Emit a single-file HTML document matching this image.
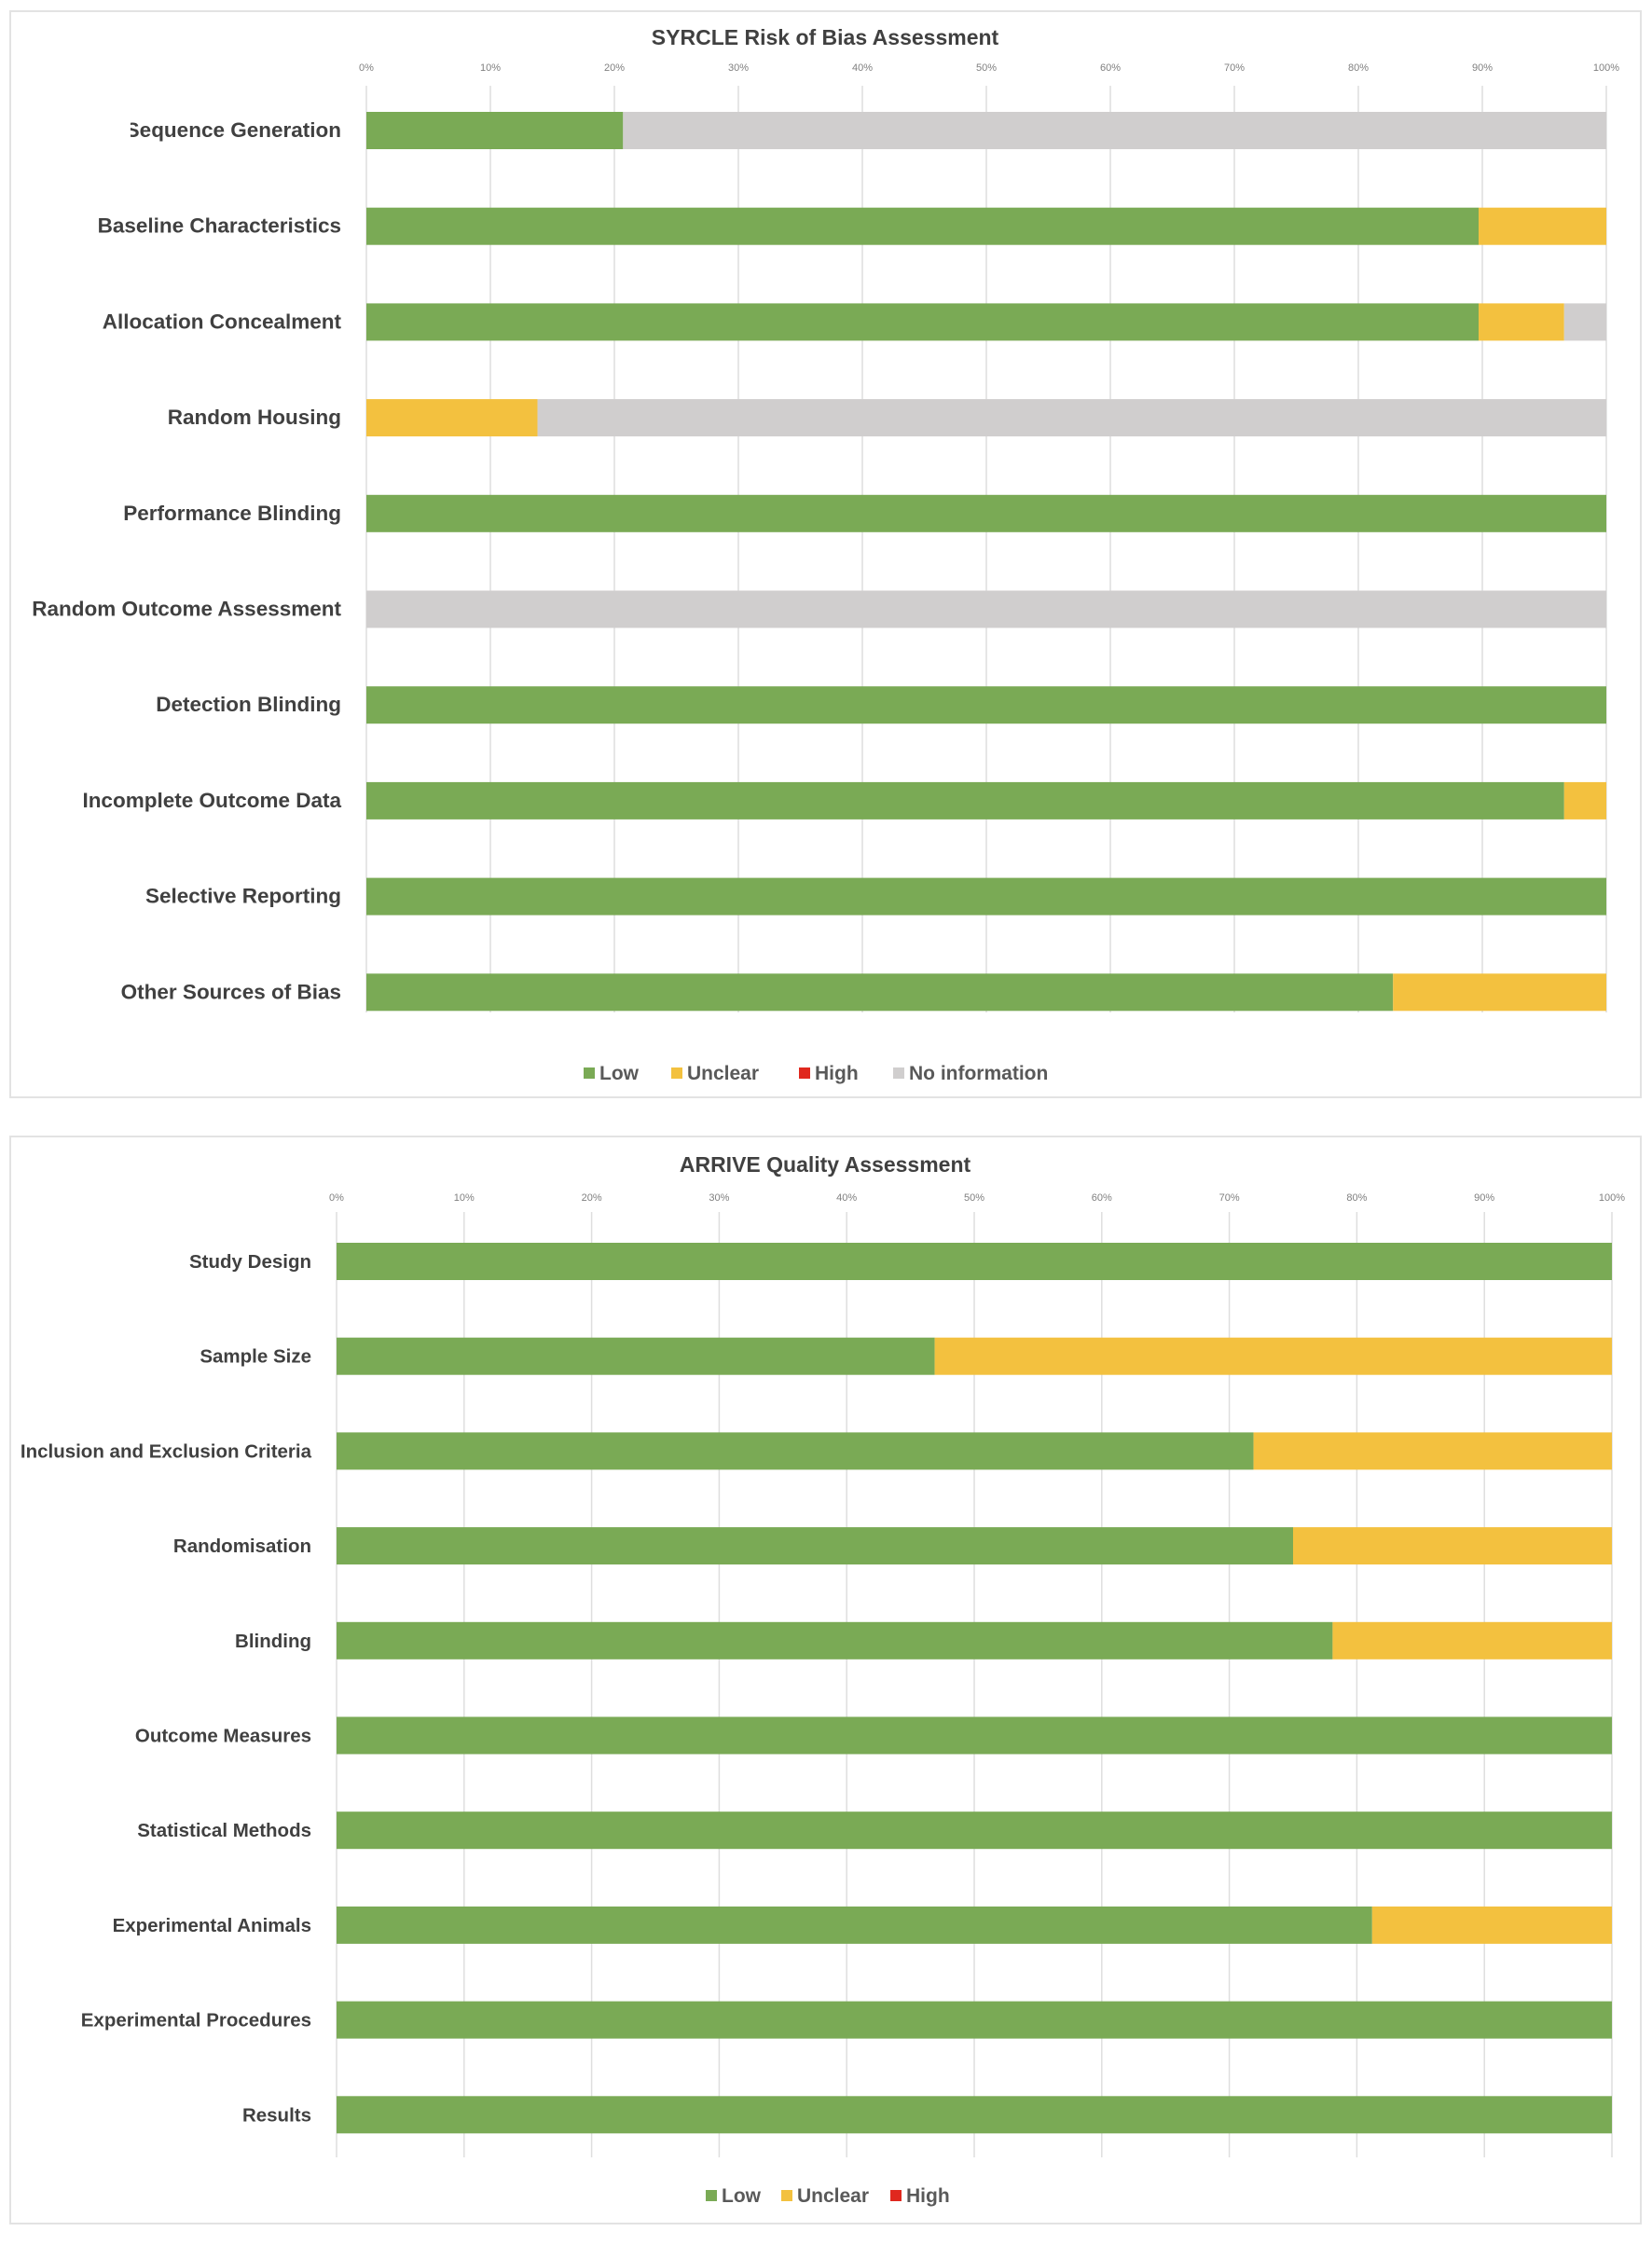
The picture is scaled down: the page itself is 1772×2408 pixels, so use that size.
<!DOCTYPE html>
<html><head><meta charset="utf-8">
<style>
html,body{margin:0;padding:0;background:#fff;}
svg{display:block;font-family:"Liberation Sans",sans-serif;}
</style></head>
<body>
<svg id="c" width="1772" height="2408" viewBox="0 0 1772 2408" xmlns="http://www.w3.org/2000/svg">
<defs><clipPath id="clipSeq"><rect x="140" y="100" width="400" height="80"/></clipPath></defs>
<rect x="11" y="12" width="1749" height="1165" fill="#fff" stroke="#e3e3e3" stroke-width="2"/>
<rect x="11" y="1219" width="1749" height="1166" fill="#fff" stroke="#e3e3e3" stroke-width="2"/>
<text x="885" y="48" text-anchor="middle" font-size="23" font-weight="bold" fill="#404040">SYRCLE Risk of Bias Assessment</text>
<text x="885" y="1257" text-anchor="middle" font-size="23" font-weight="bold" fill="#404040">ARRIVE Quality Assessment</text>
<g id="g1"></g>
<g id="g2"></g>
</svg>
<script>
const ticks = ['0%','10%','20%','30%','40%','50%','60%','70%','80%','90%','100%'];
const syrcleCats = ['Sequence Generation','Baseline Characteristics','Allocation Concealment','Random Housing','Performance Blinding','Random Outcome Assessment','Detection Blinding','Incomplete Outcome Data','Selective Reporting','Other Sources of Bias'];
const syrcleLow = [20.7,89.7,89.7,0,100,0,100,96.6,100,82.8];
const syrcleUnclear = [0,10.3,6.9,13.8,0,0,0,3.4,0,17.2];
const syrcleHigh = [0,0,0,0,0,0,0,0,0,0];
const syrcleNoInfo = [79.3,0,3.4,86.2,0,100,0,0,0,0];
const arriveCats = ['Study Design','Sample Size','Inclusion and Exclusion Criteria','Randomisation','Blinding','Outcome Measures','Statistical Methods','Experimental Animals','Experimental Procedures','Results'];
const arriveLow = [100,46.9,71.9,75,78.1,100,100,81.2,100,100];
const arriveUnclear = [0,53.1,28.1,25,21.9,0,0,18.8,0,0];
const arriveHigh = [0,0,0,0,0,0,0,0,0,0];

const NS='http://www.w3.org/2000/svg';
const COLORS={low:'#7aaa55',unclear:'#f3c13f',high:'#e0281e',noinfo:'#d0cece'};
function mk(tag,attrs,parent){const e=document.createElementNS(NS,tag);for(const k in attrs)e.setAttribute(k,attrs[k]);parent.appendChild(e);return e;}

function draw(g,cfg){
  const xs=v=>cfg.x0+(cfg.x1-cfg.x0)*v/100;
  const ys=i=>cfg.row0+cfg.rowStep*i;
  ticks.forEach((t,i)=>{
    const x=xs(i*10);
    const l=mk('line',{x1:x,x2:x,y1:cfg.gridTop,y2:cfg.gridBot,stroke:'#dedede','stroke-width':1.5},g);
    
    
    const tx=mk('text',{x:x,y:cfg.tickY,'text-anchor':'middle','font-size':11,fill:'#7f7f7f'},g);
    tx.textContent=t;
    
    
  });
  cfg.cats.forEach((c,i)=>{
    const y=ys(i);
    const lb=mk('text',{x:cfg.x0-27,y:y+7,'text-anchor':'end','font-size':cfg.labelSize,'font-weight':'bold',fill:'#404040'},g);
    lb.textContent=c;
    if(cfg.clipFirst && i===0) lb.setAttribute('clip-path','url(#clipSeq)');
    
    
    let acc=0;
    cfg.series.forEach(s=>{
      const v=s.vals[i];
      if(v>0){
        const r=mk('rect',{x:xs(acc),y:y-20,width:xs(acc+v)-xs(acc),height:40,fill:COLORS[s.key]},g);
        
        
      }
      acc+=v;
    });
  });
  cfg.legend.forEach(it=>{
    const r=mk('rect',{x:it.x,y:cfg.legY-13,width:12,height:12,fill:COLORS[it.key]},g);
    
    
    const t=mk('text',{x:it.x+17,y:cfg.legY,'font-size':21,'font-weight':'bold',fill:'#595959'},g);
    t.textContent=it.label;
    
    
  });
}
draw(document.getElementById('g1'),{
  x0:393,x1:1723,row0:140,rowStep:102.7,gridTop:92,gridBot:1086,tickY:76,legY:1158,labelSize:22.5,clipFirst:true,
  cats:syrcleCats,
  series:[{key:'low',vals:syrcleLow},{key:'unclear',vals:syrcleUnclear},{key:'high',vals:syrcleHigh},{key:'noinfo',vals:syrcleNoInfo}],
  legend:[{key:'low',label:'Low',x:626},{key:'unclear',label:'Unclear',x:720},{key:'high',label:'High',x:857},{key:'noinfo',label:'No information',x:958}]
});
draw(document.getElementById('g2'),{
  x0:361,x1:1729,row0:1353,rowStep:101.7,gridTop:1300,gridBot:2314,tickY:1288,legY:2362,labelSize:20.5,clipFirst:false,
  cats:arriveCats,
  series:[{key:'low',vals:arriveLow},{key:'unclear',vals:arriveUnclear},{key:'high',vals:arriveHigh}],
  legend:[{key:'low',label:'Low',x:757},{key:'unclear',label:'Unclear',x:838},{key:'high',label:'High',x:955}]
});
</script>
</body></html>
